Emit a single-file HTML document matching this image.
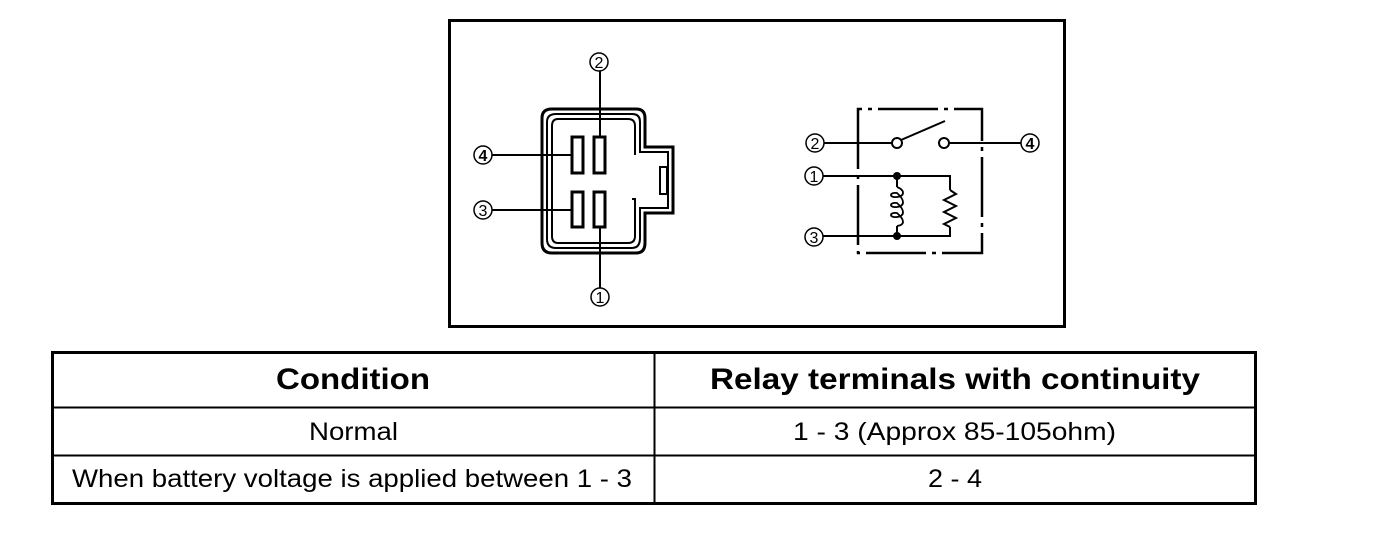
<!DOCTYPE html>
<html><head><style>body{margin:0;background:#fff}svg{display:block}</style></head><body>
<svg width="1392" height="542" viewBox="0 0 1392 542" xmlns="http://www.w3.org/2000/svg" font-family="Liberation Sans, Arial, sans-serif">
<rect x="449.5" y="20.5" width="615" height="306" fill="none" stroke="#000" stroke-width="3"/>
<g fill="none" stroke="#000">
<path d="M552 109 H636 Q645 109 645 118 V147 H673 V213 H645 V243 Q645 253 636 253 H552 Q542 253 542 243 V118 Q542 109 552 109 Z" stroke-width="3"/>
<path d="M556 114 H632 Q640 114 640 122 V152 H668 V208 H640 V238 Q640 248 632 248 H556 Q547 248 547 239 V122 Q547 114 556 114 Z" stroke-width="2"/>
<path d="M635 155 V126 Q635 119 628 119 H558 Q552 119 552 126 V236 Q552 243 558 243 H628 Q635 243 635 236 V199 H632" stroke-width="2"/>
<rect x="660" y="167" width="7" height="27" stroke-width="2"/>
<rect x="572" y="137" width="11" height="36" stroke-width="3"/>
<rect x="594" y="137" width="11" height="36" stroke-width="3"/>
<rect x="572" y="192" width="11" height="35" stroke-width="3"/>
<rect x="594" y="192" width="11" height="35" stroke-width="3"/>
<path d="M600 71 V137 M600 227 V288 M492 155 H572 M492 210 H572" stroke-width="2"/>
<g stroke-width="1.5"><circle cx="599" cy="62" r="9"/><circle cx="483" cy="155" r="9"/><circle cx="483" cy="210" r="9"/><circle cx="600" cy="297" r="9"/></g>
<path d="M858 109 V253 H982 V109 Z" stroke-width="2.5" stroke-dasharray="60 6 4 6"/>
<path d="M824 143 H892 M949 143 H1021 M823 176 H950 V190 M950 227 V236 H823 M897 176 V187 M897 226 V236" stroke-width="2"/>
<path d="M901 140 L945 121" stroke-width="2"/>
<path d="M950 190 L956 194 L944 200 L956 206 L944 212 L956 218 L944 224 L950 227" stroke-width="2"/>
<path d="M897 187 C905 190 905 196 897 197 C889 198 889 192 897 193 C905 200 905 206 897 207 C889 208 889 202 897 203 C905 210 905 216 897 217 C889 218 889 212 897 213 C905 220 905 225 897 226" stroke-width="1.8"/>
<circle cx="897" cy="143" r="5" stroke-width="2" fill="#fff"/>
<circle cx="944" cy="143" r="5" stroke-width="2" fill="#fff"/>
<g stroke-width="1.5"><circle cx="815" cy="143" r="9"/><circle cx="1030" cy="143" r="9"/><circle cx="814" cy="176" r="9"/><circle cx="814" cy="237" r="9"/></g>
</g>
<circle cx="897" cy="176" r="4" fill="#000"/><circle cx="897" cy="236" r="4" fill="#000"/>
<g font-size="16" text-anchor="middle" fill="#000">
<text x="599" y="68">2</text><text x="483" y="161" font-weight="bold">4</text><text x="483" y="216">3</text><text x="600" y="303">1</text>
<text x="815" y="149">2</text><text x="1030" y="149" font-weight="bold">4</text><text x="814" y="182">1</text><text x="814" y="243">3</text>
</g>
<g fill="none" stroke="#000">
<rect x="52.5" y="352.5" width="1203" height="151" stroke-width="3"/>
<path d="M52 407.5 H1256 M52 455.5 H1256" stroke-width="2"/>
<path d="M654.5 352 V504" stroke-width="2"/>
</g>
<g fill="#000">
<text x="276" y="389" font-size="30" font-weight="bold" textLength="154" lengthAdjust="spacingAndGlyphs">Condition</text>
<text x="710" y="389" font-size="30" font-weight="bold" textLength="490" lengthAdjust="spacingAndGlyphs">Relay terminals with continuity</text>
<text x="309" y="440" font-size="25" textLength="89" lengthAdjust="spacingAndGlyphs">Normal</text>
<text x="793" y="440" font-size="25" textLength="323" lengthAdjust="spacingAndGlyphs">1 - 3 (Approx 85-105ohm)</text>
<text x="72" y="487" font-size="25" textLength="560" lengthAdjust="spacingAndGlyphs">When battery voltage is applied between 1 - 3</text>
<text x="928" y="487" font-size="25" textLength="54" lengthAdjust="spacingAndGlyphs">2 - 4</text>
</g>
</svg>
</body></html>
